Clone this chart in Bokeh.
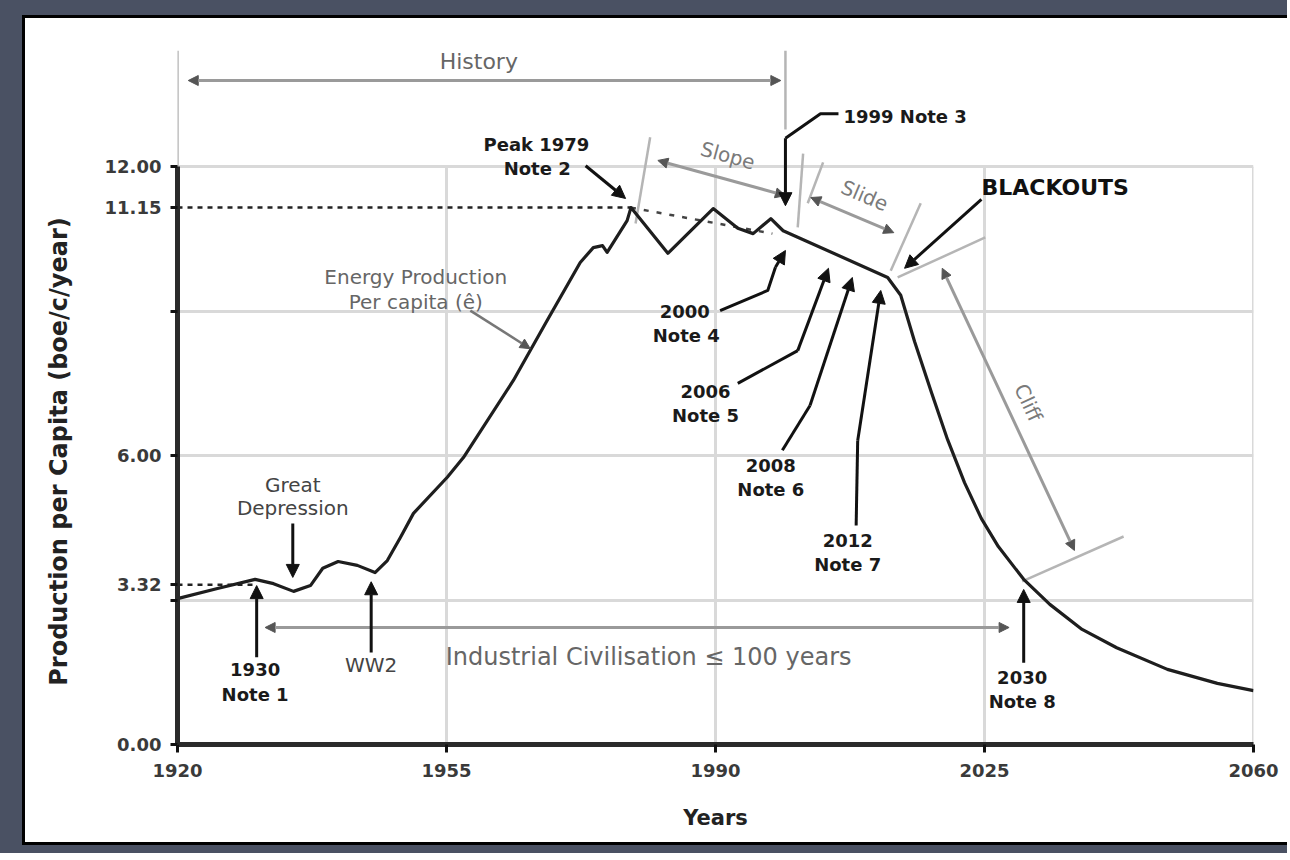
from bokeh.plotting import figure
from bokeh.layouts import column
from bokeh.models import FixedTicker, Arrow, NormalHead
from bokeh.core.properties import value
from bokeh.embed import file_html
from bokeh.resources import INLINE

FONT = "DejaVu Sans"

# ---------------- data ----------------
years = [1920, 1925.2, 1930.1, 1932.5, 1935.1, 1937.3, 1938.9, 1940.9, 1943.4, 1945.7, 1947.3,
         1949.0, 1950.7, 1955.1, 1957.2, 1963.7, 1968.0, 1972.4, 1974.1, 1975.3, 1975.9,
         1978.5, 1979, 1983.8, 1989.7, 1992.9, 1994.9, 1997.2, 1998.8, 2012.4, 2014.1,
         2015.9, 2018.1, 2020.2, 2022.4, 2024.6, 2026.8, 2030.1, 2033.5, 2037.7, 2042.2,
         2048.8, 2055.3, 2060]
production = [3.03, 3.24, 3.43, 3.34, 3.18, 3.30, 3.66, 3.80, 3.72, 3.57, 3.82,
              4.30, 4.80, 5.55, 5.96, 7.56, 8.78, 10.01, 10.32, 10.36, 10.22,
              10.88, 11.15, 10.20, 11.13, 10.72, 10.61, 10.92, 10.67, 9.70, 9.33,
              8.37, 7.31, 6.33, 5.44, 4.69, 4.11, 3.43, 2.91, 2.39, 2.01,
              1.56, 1.27, 1.12]

x_ticks = [1920, 1955, 1990, 2025, 2060]
y_ticks = [0, 3, 3.32, 6, 9, 11.15, 12]
y_tick_labels = ["0.00", "", "3.32", "6.00", "", "11.15", "12.00"]
grid_y = [3, 6, 9, 12]
grid_x = [1955, 1990, 2025, 2060]

peak_year, peak_value = 1979, 11.15
base_year, base_value = 1930, 3.32
trend_end_year, trend_end_value = 1997.4, 10.61

# annotation texts
bold_notes = ["Peak 1979", "Note 2", "2000", "Note 4", "2006", "Note 5", "2008", "Note 6",
              "2012", "Note 7", "1930", "Note 1", "2030", "Note 8"]
bold_notes_x = [1966.7, 1966.8, 1986.0, 1986.2, 1988.7, 1988.7, 1997.2, 1997.2,
                2007.2, 2007.2, 1930.1, 1930.1, 2029.9, 2029.9]
bold_notes_y = [12.47, 11.97, 8.99, 8.49, 7.33, 6.83, 5.79, 5.29,
                4.24, 3.74, 1.56, 1.04, 1.39, 0.89]

dark_notes = ["Great", "Depression", "WW2"]
dark_notes_x = [1935.0, 1935.0, 1945.2]
dark_notes_y = [5.38, 4.92, 1.66]

# ---------------- figure ----------------
p = figure(width=1265, height=830, x_range=(1920, 2060), y_range=(0, 14.6),
           output_backend="svg", toolbar_location=None,
           min_border_left=152, min_border_right=37, min_border_top=23, min_border_bottom=104)
p.outline_line_color = None
p.background_fill_color = "white"
p.border_fill_color = "white"
p.styles = {"background-color": "white",
            "border-left": "3px solid black", "border-top": "3px solid black",
            "border-bottom": "3px solid black"}

# grid
p.xgrid.visible = False
p.ygrid.ticker = FixedTicker(ticks=grid_y)
p.ygrid.grid_line_color = "#d9d9d9"
p.ygrid.grid_line_width = 3
p.segment(x0=grid_x, y0=[0] * len(grid_x), x1=grid_x, y1=[12] * len(grid_x),
          line_color="#d9d9d9", line_width=3)

# axes
p.xaxis.ticker = FixedTicker(ticks=x_ticks)
p.yaxis.ticker = FixedTicker(ticks=y_ticks)
p.yaxis.major_label_overrides = {t: l for t, l in zip(y_ticks, y_tick_labels)}
p.yaxis.bounds = (0, 12)
for ax in (p.xaxis, p.yaxis):
    ax.axis_line_color = "#2b2b2b"
    ax.axis_line_width = 5
    ax.major_tick_line_color = "#111"
    ax.major_tick_line_width = 3
    ax.major_tick_in = 0
    ax.minor_tick_line_color = None
    ax.major_label_text_font = FONT
    ax.major_label_text_font_style = "bold"
    ax.major_label_text_color = "#3a3a3a"
    ax.major_label_text_font_size = "18px"
    ax.axis_label_text_font = FONT
    ax.axis_label_text_font_style = "bold"
    ax.axis_label_text_color = "#222"
p.xaxis.major_tick_out = 8
p.yaxis.major_tick_out = 7
p.xaxis.major_label_standoff = 11
p.yaxis.major_label_standoff = 9
p.xaxis.axis_label = "Years"
p.yaxis.axis_label = "Production per Capita (boe/c/year)" + "\u00a0" * 14
p.xaxis.axis_label_text_font_size = "21px"
p.yaxis.axis_label_text_font_size = "24px"
p.xaxis.axis_label_standoff = 26
p.yaxis.axis_label_standoff = 29

# gray marker lines / brackets
marker_x0 = [1920, 1999.1, 1981.5, 2001.4, 2004.0, 2016.7, 2025.1, 2043.1]
marker_y0 = [12, 14.41, 12.61, 12.27, 12.09, 11.24, 10.53, 4.32]
marker_x1 = [1920, 1999.1, 1979.6, 2000.7, 2002.0, 2012.8, 2013.7, 2029.9]
marker_y1 = [14.41, 12.77, 10.82, 10.74, 11.24, 9.84, 9.70, 3.39]
p.segment(x0=marker_x0, y0=marker_y0, x1=marker_x1, y1=marker_y1,
          line_color="#b5b5b5", line_width=2.5)

# dashed reference lines
p.line([1920, peak_year], [peak_value, peak_value], line_color="#222", line_width=2.5,
       line_dash="5 5")
p.line([peak_year, trend_end_year], [peak_value, trend_end_value], line_color="#444",
       line_width=2.5, line_dash="5 8")
p.line([1920, base_year], [base_value, base_value], line_color="#222", line_width=2.5,
       line_dash="5 5")

# main curve
p.line(years, production, line_color="#1e1e1e", line_width=3.2, line_join="round")

# gray double arrows
dbl = [(1921.4, 13.79, 1998.5, 13.79), (1982.5, 12.13, 1999.1, 11.40),
       (2002.4, 11.36, 2013.2, 10.63), (2019.5, 9.89, 2036.7, 4.03),
       (1931.4, 2.43, 2028.2, 2.43)]
for (xa, ya, xb, yb) in dbl:
    p.add_layout(Arrow(x_start=xa, y_start=ya, x_end=xb, y_end=yb,
                       line_color="#9a9a9a", line_width=3,
                       start=NormalHead(size=10, fill_color="#555", line_color="#555"),
                       end=NormalHead(size=10, fill_color="#555", line_color="#555")))
# single gray arrow (Energy production)
p.add_layout(Arrow(x_start=1958.1, y_start=9.01, x_end=1965.9, y_end=8.22,
                   line_color="#777", line_width=2.5,
                   end=NormalHead(size=10, fill_color="#555", line_color="#555")))

# black arrows
paths = [
    [(2006.0, 13.1), (2003.66, 13.1), (1999.1, 12.59), (1999.1, 11.19)],
    [(1973.1, 12.02), (1978.3, 11.34)],
    [(2024.6, 11.32), (2014.6, 9.89)],
    [(1935.0, 4.59), (1935.0, 3.47)],
    [(1930.3, 1.81), (1930.3, 3.30)],
    [(1945.2, 1.91), (1945.2, 3.38)],
    [(2030.1, 1.70), (2030.1, 3.22)],
    [(1990.6, 9.01), (1996.8, 9.43), (1997.8, 9.91), (1999.1, 10.26)],
    [(1992.9, 7.50), (2000.7, 8.18), (2004.7, 9.89)],
    [(1998.7, 6.11), (2002.3, 7.04), (2007.8, 9.70)],
    [(2008.3, 4.55), (2008.5, 6.31), (2011.5, 9.43)],
]
for path in paths:
    xs = [pt[0] for pt in path]
    ys = [pt[1] for pt in path]
    if len(path) > 2:
        p.line(xs[:-1], ys[:-1], line_color="#111", line_width=3, line_join="round")
    p.add_layout(Arrow(x_start=xs[-2], y_start=ys[-2], x_end=xs[-1], y_end=ys[-1],
                       line_color="#111", line_width=3,
                       end=NormalHead(size=13, fill_color="#111", line_color="#111")))

# texts
def add_text(xs, ys, texts, size, color, bold=False, align="center", angle=0.0):
    p.text(x=xs, y=ys, text=texts, text_font=value(FONT), text_font_size=f"{size}px",
           text_color=color, text_font_style="bold" if bold else "normal",
           text_align=align, text_baseline="middle", angle=angle)

add_text(bold_notes_x, bold_notes_y, bold_notes, 18, "#1a1a1a", bold=True)
add_text([2006.65], [13.04], ["1999 Note 3"], 18, "#1a1a1a", bold=True, align="left")
add_text([2024.6], [11.57], ["BLACKOUTS"], 22, "#111", bold=True, align="left")
add_text(dark_notes_x, dark_notes_y, dark_notes, 20, "#444")
add_text([1959.2], [14.18], ["History"], 22, "#666")
add_text([1951.0, 1951.0], [9.70, 9.20], ["Energy Production", "Per capita (ê)"], 20, "#666")
add_text([1991.6], [12.23], ["Slope"], 20, "#7a7a7a", angle=-0.267)
add_text([2009.4], [11.40], ["Slide"], 20, "#7a7a7a", angle=-0.40)
add_text([2030.7], [7.10], ["Cliff"], 20, "#7a7a7a", angle=-1.133)
add_text([1981.3], [1.81], ["Industrial Civilisation \u2264 100 years"], 24, "#666")

page = column(p, styles={"background-color": "#4a5163", "padding": "15px 0px 8px 22px"})

open("out.html", "w").write(file_html(page, INLINE))
